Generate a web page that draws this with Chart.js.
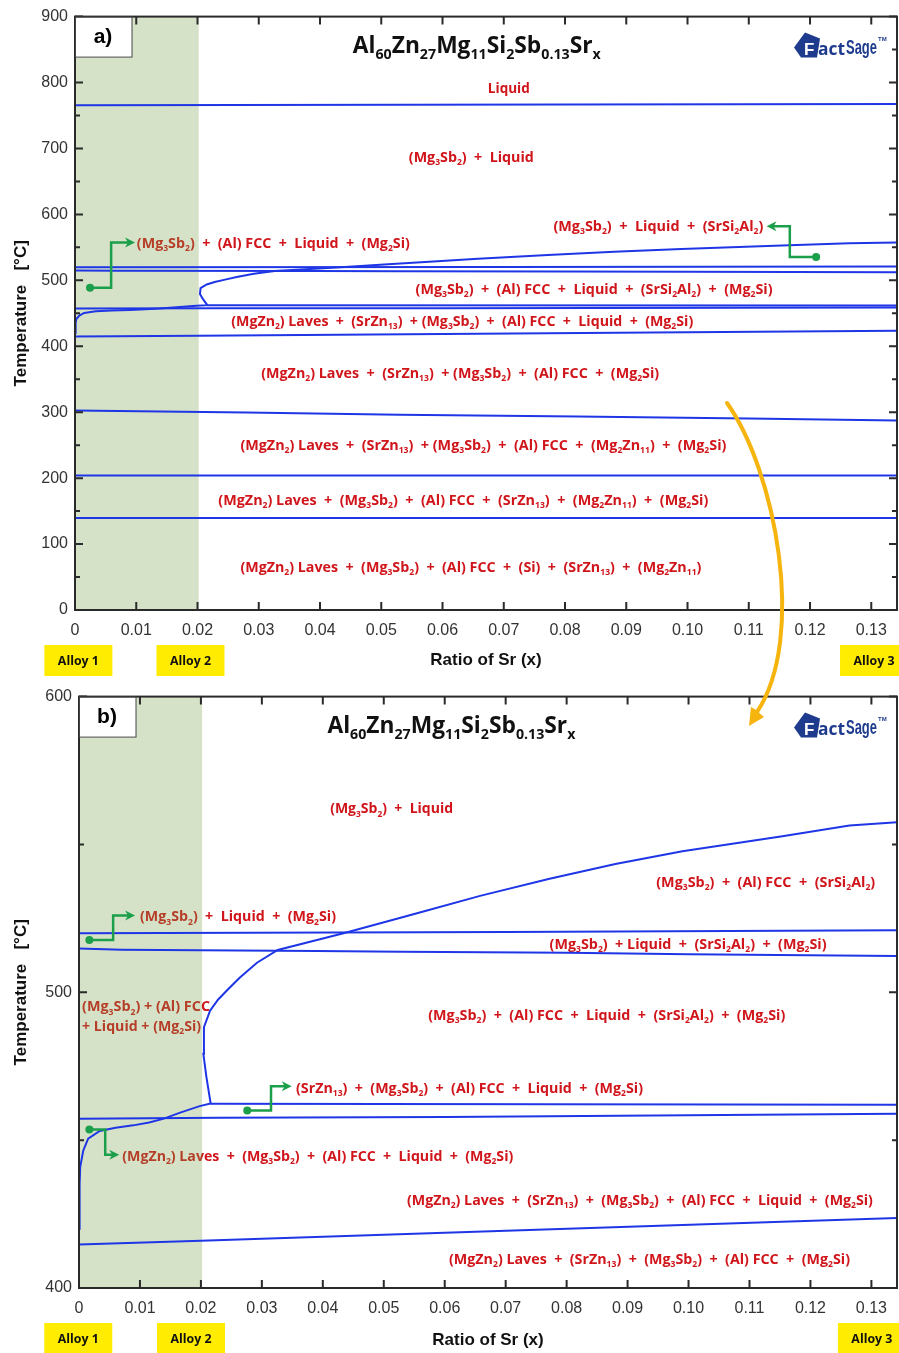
<!DOCTYPE html>
<html>
<head>
<meta charset="utf-8">
<script src="https://cdn.jsdelivr.net/npm/chart.js@4.4.0/dist/chart.umd.min.js"></script>
<style>
  html, body { margin: 0; padding: 0; background: #fff; }
  #wrap { position: relative; width: 899px; height: 1353px; overflow: hidden; }
  #chartA { position: absolute; left: 0; top: 0; }
  #chartB { position: absolute; left: 0; top: 680px; }
  #overlay { position: absolute; left: 0; top: 0; pointer-events: none; }
</style>
</head>
<body>
<div id="wrap">
  <canvas id="chartA" width="899" height="680"></canvas>
  <canvas id="chartB" width="899" height="673"></canvas>
  <canvas id="overlay" width="899" height="1353"></canvas>
</div>
<script>
// Ejes
const xTickValues = [0, 0.01, 0.02, 0.03, 0.04, 0.05, 0.06, 0.07, 0.08, 0.09, 0.10, 0.11, 0.12, 0.13];
const xTickLabels = ["0", "0.01", "0.02", "0.03", "0.04", "0.05", "0.06", "0.07", "0.08", "0.09", "0.10", "0.11", "0.12", "0.13"];
const yTicksA = [0, 100, 200, 300, 400, 500, 600, 700, 800, 900];
const yTicksB = [400, 500, 600];
const xMax = 0.1342;
const shadeRange = [0, 0.0202];

// Fronteras de fase (x = ratio de Sr, T en °C)
const liquidusX = [0, 0.1342];
const liquidusT = [765.5, 767.5];

const line520X = [0, 0.07, 0.1342];
const line520T = [520.0, 520.4, 521.0];

const line515X = [0, 0.007, 0.039, 0.053, 0.08, 0.10, 0.1342];
const line515T = [514.8, 514.4, 514.0, 513.7, 513.4, 512.9, 512.3];

const srCurveX = [0, 0.0001, 0.0002, 0.0007, 0.0015, 0.0034, 0.0060, 0.0089, 0.0115, 0.0138, 0.0166, 0.0198, 0.0216,
                  0.0209, 0.0204, 0.0205, 0.0215, 0.0228, 0.0245, 0.0264, 0.0292, 0.0326, 0.0434,
                  0.0511, 0.0565, 0.0658, 0.0772, 0.0880, 0.0990, 0.1154, 0.1264, 0.1342];
const srCurveT = [420, 435, 441, 446.5, 450.5, 453.1, 454.2, 455.0, 456.0, 457.2, 459.3, 461.5, 462.4,
                  471.4, 479.2, 488.2, 493.8, 497.5, 501.1, 505.0, 510.0, 514.3, 520.0,
                  524.3, 527.3, 532.6, 538.4, 543.4, 547.7, 552.8, 556.4, 557.5];

const line462X = [0.0216, 0.1342];
const line462T = [462.3, 462.0];

const line458X = [0, 0.023, 0.06, 0.1342];
const line458T = [457.2, 457.6, 457.8, 458.9];

const line418X = [0, 0.02, 0.06, 0.1342];
const line418T = [414.7, 416.0, 418.7, 423.7];

const line300X = [0, 0.028, 0.053, 0.082, 0.11, 0.1342];
const line300T = [302.6, 299.6, 296.0, 293.5, 290.5, 287.5];

const line204X = [0, 0.1342];
const line204T = [204.0, 204.0];

const line140X = [0, 0.1342];
const line140T = [139.7, 139.7];

const titleText = "Al_60Zn_27Mg_11Si_2Sb_0.13Sr_x";
const alloyNames = ["Alloy 1", "Alloy 2", "Alloy 3"];

// Etiquetas de regiones (texto, inicio x, T central, ancho en px)
const labelsA = [
  { t: "Liquid", x: 0.0674, y: 792.5, w: 42 },
  { t: "(Mg_3Sb_2)  +  Liquid", x: 0.0545, y: 687.7, w: 125 },
  { t: "(Mg_3Sb_2)  +  Liquid  +  (SrSi_2Al_2)", x: 0.0781, y: 583, w: 210 },
  { t: "(Mg_3Sb_2)  +  (Al) FCC  +  Liquid  +  (Mg_2Si)", x: 0.0101, y: 557.2, w: 273 },
  { t: "(Mg_3Sb_2)  +  (Al) FCC  +  Liquid  +  (SrSi_2Al_2)  +  (Mg_2Si)", x: 0.0556, y: 487.3, w: 357 },
  { t: "(MgZn_2) Laves  +  (SrZn_13)  + (Mg_3Sb_2)  +  (Al) FCC  +  Liquid  +  (Mg_2Si)", x: 0.0255, y: 438.7, w: 462 },
  { t: "(MgZn_2) Laves  +  (SrZn_13)  + (Mg_3Sb_2)  +  (Al) FCC  +  (Mg_2Si)", x: 0.0304, y: 360.8, w: 398 },
  { t: "(MgZn_2) Laves  +  (SrZn_13)  + (Mg_3Sb_2)  +  (Al) FCC  +  (Mg_2Zn_11)  +  (Mg_2Si)", x: 0.0270, y: 251.6, w: 486 },
  { t: "(MgZn_2) Laves  +  (Mg_3Sb_2)  +  (Al) FCC  +  (SrZn_13)  +  (Mg_2Zn_11)  +  (Mg_2Si)", x: 0.0234, y: 168, w: 490 },
  { t: "(MgZn_2) Laves  +  (Mg_3Sb_2)  +  (Al) FCC  +  (Si)  +  (SrZn_13)  +  (Mg_2Zn_11)", x: 0.0270, y: 65.8, w: 461 }
];

const labelsB = [
  { t: "(Mg_3Sb_2)  +  Liquid", x: 0.0412, y: 562.3, w: 123 },
  { t: "(Mg_3Sb_2)  +  Liquid  +  (Mg_2Si)", x: 0.0100, y: 525.8, w: 196 },
  { t: "(Mg_3Sb_2)  +  (Al) FCC  +  (SrSi_2Al_2)", x: 0.0947, y: 537.6, w: 219 },
  { t: "(Mg_3Sb_2)  + Liquid  +  (SrSi_2Al_2)  +  (Mg_2Si)", x: 0.0772, y: 516.6, w: 277 },
  { t: "(Mg_3Sb_2) + (Al) FCC", x: 0.0005, y: 495.4, w: 128 },
  { t: "+ Liquid + (Mg_2Si)", x: 0.0005, y: 488.7, w: 119 },
  { t: "(Mg_3Sb_2)  +  (Al) FCC  +  Liquid  +  (SrSi_2Al_2)  +  (Mg_2Si)", x: 0.0573, y: 492.4, w: 357 },
  { t: "(SrZn_13)  +  (Mg_3Sb_2)  +  (Al) FCC  +  Liquid  +  (Mg_2Si)", x: 0.0356, y: 467.9, w: 347 },
  { t: "(MgZn_2) Laves  +  (Mg_3Sb_2)  +  (Al) FCC  +  Liquid  +  (Mg_2Si)", x: 0.0071, y: 444.9, w: 391 },
  { t: "(MgZn_2) Laves  +  (SrZn_13)  +  (Mg_3Sb_2)  +  (Al) FCC  +  Liquid  +  (Mg_2Si)", x: 0.0538, y: 430, w: 466 },
  { t: "(MgZn_2) Laves  +  (SrZn_13)  +  (Mg_3Sb_2)  +  (Al) FCC  +  (Mg_2Si)", x: 0.0607, y: 410, w: 401 }
];

// Flechas verdes (punto inicial ... punta)
const arrowsA = [
  [[0.00245, 488.8], [0.0059, 488.8], [0.0059, 557.2], [0.0098, 557.2]],
  [[0.1210, 535.4], [0.1167, 535.4], [0.1167, 581.9], [0.1129, 581.9]]
];
const arrowsB = [
  [[0.0017, 517.7], [0.0056, 517.7], [0.0056, 526.0], [0.0092, 526.0]],
  [[0.0276, 460.0], [0.0315, 460.0], [0.0315, 468.2], [0.0349, 468.2]],
  [[0.0017, 453.6], [0.0043, 453.6], [0.0043, 445.1], [0.0066, 445.1]]
];

const panels = {
  chartA: { tag: "a)", labels: labelsA, arrows: arrowsA, titleX: 0.0656, alloyLeft: [-0.0050, 0.0133, 0.1249] },
  chartB: { tag: "b)", labels: labelsB, arrows: arrowsB, titleX: 0.0611, alloyLeft: [-0.0057, 0.0128, 0.1245] }
};

const lineBlue = "#1f36e6";
const labelRed = "#d0151b";
const arrowGreen = "#1b9f4a";
const logoBlue = "#1e3b8e";

function pts(xs, ts) {
  return xs.map((x, i) => ({ x: x, y: ts[i] }));
}

function makeDatasets() {
  const series = [
    [liquidusX, liquidusT], [line520X, line520T], [line515X, line515T], [srCurveX, srCurveT],
    [line462X, line462T], [line458X, line458T], [line418X, line418T], [line300X, line300T],
    [line204X, line204T], [line140X, line140T]
  ];
  return series.map(s => ({
    data: pts(s[0], s[1]),
    showLine: true,
    borderColor: lineBlue,
    borderWidth: 2,
    pointRadius: 0,
    tension: 0,
    fill: false
  }));
}

// Texto con subíndices: "Mg_3Sb_2"
function parseRich(text) {
  const segs = [];
  const re = /_(\d+\.\d+|\d+|x)/g;
  let last = 0, m;
  while ((m = re.exec(text))) {
    if (m.index > last) segs.push({ s: text.slice(last, m.index), sub: false });
    segs.push({ s: m[1], sub: true });
    last = re.lastIndex;
  }
  if (last < text.length) segs.push({ s: text.slice(last), sub: false });
  return segs;
}

function drawRich(ctx, text, x, y, w, size, color, family, align) {
  const segs = parseRich(text);
  const main = "bold " + size + "px " + family;
  const sub = "bold " + Math.round(size * 0.62) + "px " + family;
  let total = 0;
  segs.forEach(g => {
    ctx.font = g.sub ? sub : main;
    g.w = ctx.measureText(g.s).width;
    total += g.w;
  });
  const k = w ? w / total : 1;
  ctx.save();
  ctx.translate(align === "center" ? x - (total * k) / 2 : x, y);
  ctx.scale(k, 1);
  ctx.fillStyle = color;
  ctx.textAlign = "left";
  ctx.textBaseline = "alphabetic";
  let cx = 0;
  segs.forEach(g => {
    ctx.font = g.sub ? sub : main;
    ctx.fillText(g.s, cx, g.sub ? size * 0.58 : size * 0.36);
    cx += g.w;
  });
  ctx.restore();
}

function drawGreenArrow(ctx, p) {
  const n = p.length;
  const tip = p[n - 1], prev = p[n - 2];
  const dx = tip[0] - prev[0], dy = tip[1] - prev[1];
  const len = Math.hypot(dx, dy);
  const ux = dx / len, uy = dy / len;
  ctx.strokeStyle = arrowGreen;
  ctx.fillStyle = arrowGreen;
  ctx.lineWidth = 2.5;
  ctx.beginPath();
  ctx.moveTo(p[0][0], p[0][1]);
  for (let i = 1; i < n - 1; i++) ctx.lineTo(p[i][0], p[i][1]);
  ctx.lineTo(tip[0] - ux * 6, tip[1] - uy * 6);
  ctx.stroke();
  ctx.beginPath();
  ctx.arc(p[0][0], p[0][1], 4, 0, Math.PI * 2);
  ctx.fill();
  ctx.beginPath();
  ctx.moveTo(tip[0], tip[1]);
  ctx.lineTo(tip[0] - ux * 10 - uy * 5, tip[1] - uy * 10 + ux * 5);
  ctx.lineTo(tip[0] - ux * 7, tip[1] - uy * 7);
  ctx.lineTo(tip[0] - ux * 10 + uy * 5, tip[1] - uy * 10 - ux * 5);
  ctx.closePath();
  ctx.fill();
}

// Logo FactSage aproximado
function drawLogo(ctx, L, cy) {
  ctx.save();
  ctx.textAlign = "left";
  ctx.textBaseline = "alphabetic";
  ctx.fillStyle = logoBlue;
  ctx.beginPath();
  ctx.moveTo(L - 2, cy);
  ctx.lineTo(L + 9, cy - 15);
  ctx.lineTo(L + 24, cy - 9);
  ctx.lineTo(L + 21, cy + 10);
  ctx.lineTo(L + 5, cy + 10);
  ctx.closePath();
  ctx.fill();
  ctx.fillStyle = "#fff";
  ctx.font = "bold 17px 'Liberation Sans'";
  ctx.fillText("F", L + 8, cy + 7);
  drawRich(ctx, "act", L + 22, cy + 1, 27, 18, logoBlue, '"Open Sans"', "left");
  ctx.fillStyle = logoBlue;
  ctx.save();
  ctx.translate(L + 50, cy + 6);
  ctx.scale(1, 1.15);
  ctx.font = "bold 17px 'Liberation Sans'";
  const sw = ctx.measureText("Sage").width;
  ctx.scale(31 / sw, 1);
  ctx.fillText("Sage", 0, 0);
  ctx.restore();
  ctx.font = "bold 6px 'Liberation Sans'";
  ctx.fillText("TM", L + 82, cy - 7);
  ctx.restore();
}

// Plugin de anotaciones del diagrama
const phasePlugin = {
  id: "phase",
  beforeDatasetsDraw(chart) {
    const p = panels[chart.canvas.id];
    const ctx = chart.ctx;
    const xs = chart.scales.x, ys = chart.scales.y;
    const a = chart.chartArea;
    ctx.save();
    ctx.beginPath();
    ctx.rect(a.left, a.top, a.right - a.left, a.bottom - a.top);
    ctx.clip();
    p.labels.forEach(l => {
      drawRich(ctx, l.t, xs.getPixelForValue(l.x), ys.getPixelForValue(l.y), l.w, 15, labelRed, '"Open Sans"', "left");
    });
    // zona sombreada de aleaciones
    const x0 = xs.getPixelForValue(shadeRange[0]);
    const x1 = xs.getPixelForValue(shadeRange[1]);
    ctx.fillStyle = "rgba(118,158,72,0.3)";
    ctx.fillRect(x0, a.top, x1 - x0, a.bottom - a.top);
    ctx.restore();
  },
  afterDatasetsDraw(chart) {
    const p = panels[chart.canvas.id];
    const ctx = chart.ctx;
    const xs = chart.scales.x, ys = chart.scales.y;
    const a = chart.chartArea;
    ctx.save();
    p.arrows.forEach(arr => {
      drawGreenArrow(ctx, arr.map(q => [xs.getPixelForValue(q[0]), ys.getPixelForValue(q[1])]));
    });

    // marcas hacia dentro
    ctx.strokeStyle = "#2a2a2a";
    ctx.lineWidth = 2;
    ctx.beginPath();
    xTickValues.forEach(v => {
      const px = xs.getPixelForValue(v);
      ctx.moveTo(px, a.bottom); ctx.lineTo(px, a.bottom - 8);
      ctx.moveTo(px, a.top); ctx.lineTo(px, a.top + 8);
    });
    for (let v = ys.min; v <= ys.max; v += 50) {
      const py = ys.getPixelForValue(v);
      const len = v % 100 === 0 ? 8 : 5;
      ctx.moveTo(a.left, py); ctx.lineTo(a.left + len, py);
      ctx.moveTo(a.right, py); ctx.lineTo(a.right - len, py);
    }
    ctx.stroke();
    ctx.strokeRect(a.left, a.top, a.right - a.left, a.bottom - a.top);

    // recuadro de panel
    ctx.fillStyle = "#fff";
    ctx.fillRect(a.left + 1, a.top + 1, 56, 40);
    ctx.lineWidth = 1;
    ctx.strokeStyle = "#444";
    ctx.strokeRect(a.left + 0.5, a.top + 0.5, 56.5, 40);
    ctx.fillStyle = "#000";
    ctx.font = "bold 21px 'Liberation Sans'";
    ctx.textAlign = "center";
    ctx.textBaseline = "middle";
    ctx.fillText(p.tag, a.left + 28, a.top + 21);

    // título y logo
    drawRich(ctx, titleText, xs.getPixelForValue(p.titleX), a.top + 28, 248, 24, "#111", '"Open Sans"', "center");
    drawLogo(ctx, a.right - 101, a.top + 31);
    ctx.restore();
  },
  afterDraw(chart) {
    const p = panels[chart.canvas.id];
    const ctx = chart.ctx;
    const xs = chart.scales.x;
    const a = chart.chartArea;
    ctx.save();
    p.alloyLeft.forEach((v, i) => {
      const left = xs.getPixelForValue(v);
      ctx.fillStyle = "#ffec00";
      ctx.fillRect(left, a.bottom + 35, 68, 31);
      drawRich(ctx, alloyNames[i], left + 34, a.bottom + 50, 41, 13, "#111", '"Open Sans"', "center");
    });
    ctx.restore();
  }
};

function makeOptions(yMin, yMax, yTicks, padTop, yWidth, xHeight, titlePadBottom) {
  const tickFont = { family: "'Liberation Sans', Arial, sans-serif", size: 16 };
  const titleFont = { family: "'Liberation Sans', Arial, sans-serif", size: 17, weight: "bold" };
  return {
    responsive: false,
    animation: false,
    layout: { padding: { top: padTop, right: 2, left: 0, bottom: 0 } },
    plugins: { legend: { display: false }, tooltip: { enabled: false } },
    scales: {
      x: {
        type: "linear",
        min: 0,
        max: xMax,
        afterBuildTicks: s => { s.ticks = xTickValues.map(v => ({ value: v })); },
        afterFit: s => { s.height = xHeight; },
        grid: { display: false, drawTicks: false },
        border: { display: false },
        ticks: {
          padding: 11,
          autoSkip: false,
          maxRotation: 0,
          color: "#333",
          font: tickFont,
          callback: (v, i) => xTickLabels[i]
        },
        title: {
          display: true,
          text: "Ratio of Sr (x)",
          color: "#111",
          font: titleFont,
          padding: { top: 0, bottom: titlePadBottom }
        }
      },
      y: {
        type: "linear",
        min: yMin,
        max: yMax,
        afterBuildTicks: s => { s.ticks = yTicks.map(v => ({ value: v })); },
        afterFit: s => { s.width = yWidth; },
        grid: { display: false, drawTicks: false },
        border: { display: false },
        ticks: {
          padding: 7,
          color: "#333",
          font: tickFont,
          callback: v => String(v)
        },
        title: {
          display: true,
          text: "Temperature   [°C]",
          color: "#111",
          font: titleFont,
          padding: { top: 11.5, bottom: 0 }
        }
      }
    }
  };
}

// Flecha naranja entre paneles
function drawOrangeArrow() {
  const ctx = document.getElementById("overlay").getContext("2d");
  ctx.strokeStyle = "#f6b40f";
  ctx.fillStyle = "#f6b40f";
  ctx.lineWidth = 4;
  ctx.lineCap = "round";
  ctx.beginPath();
  ctx.moveTo(727, 403);
  ctx.bezierCurveTo(775, 470, 807, 637, 757, 712);
  ctx.stroke();
  ctx.beginPath();
  ctx.moveTo(749, 726);
  ctx.lineTo(764, 717);
  ctx.lineTo(756, 710);
  ctx.lineTo(751, 707);
  ctx.closePath();
  ctx.fill();
}

new Chart(document.getElementById("chartA"), {
  type: "scatter",
  data: { datasets: makeDatasets() },
  options: makeOptions(0, 900, yTicksA, 16, 75, 70, 9.8),
  plugins: [phasePlugin]
});

new Chart(document.getElementById("chartB"), {
  type: "scatter",
  data: { datasets: makeDatasets() },
  options: makeOptions(400, 600, yTicksB, 15, 79, 65, 2.8),
  plugins: [phasePlugin]
});

drawOrangeArrow();
</script>
</body>
</html>
